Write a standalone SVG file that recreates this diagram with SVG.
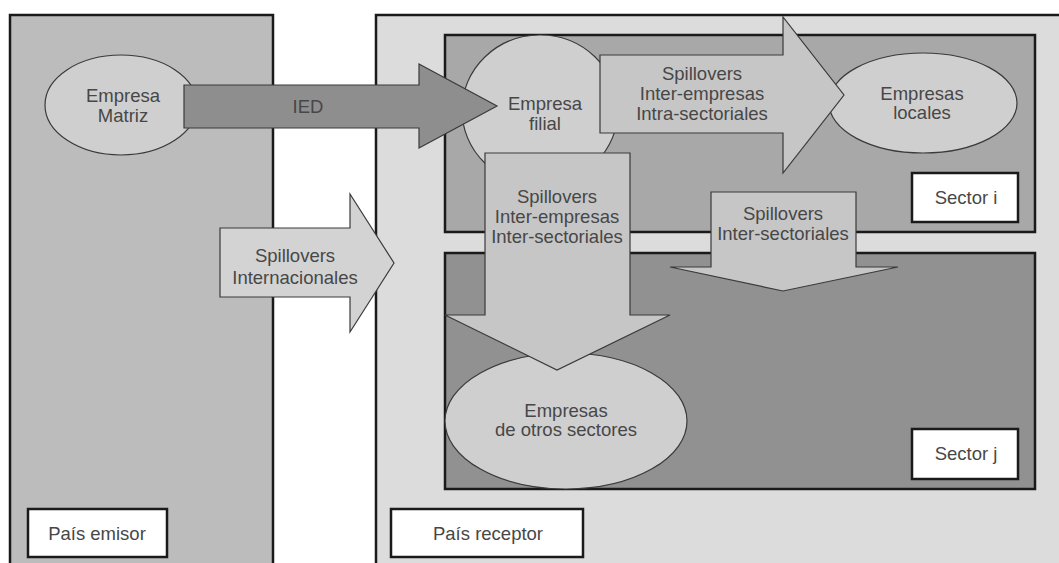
<svg xmlns="http://www.w3.org/2000/svg" width="1059" height="563" viewBox="0 0 1059 563">
  <style>
    .panel { stroke: #1a1a1a; stroke-width: 2.5; }
    .sector { stroke: #1a1a1a; stroke-width: 2.5; }
    .label { fill: #ffffff; stroke: #1a1a1a; stroke-width: 2.5; }
    .firm { fill: #cfcfcf; stroke: #3a3a3a; stroke-width: 1.2; }
    .arrow { stroke: #3a3a3a; stroke-width: 1.2; stroke-linejoin: miter; }
    .light { fill: #c6c6c6; }
    .lighter { fill: #d3d3d3; }
    .dark { fill: #8e8e8e; }
    text { font-family: "Liberation Sans", Arial, sans-serif; font-size: 18.5px; fill: #474747; text-anchor: middle; }
  </style>

  <rect width="1059" height="563" fill="#ffffff"/>

  <!-- Countries -->
  <g id="pais-emisor">
    <rect class="panel" x="10" y="15" width="263" height="560" fill="#bdbcbd"/>
  </g>
  <g id="pais-receptor">
    <rect class="panel" x="376" y="15" width="700" height="560" fill="#dcdcdc"/>
  </g>

  <!-- Sectors inside the receiving country -->
  <g id="sector-i">
    <rect class="sector" x="445" y="35" width="590" height="197" fill="#a8a8a8"/>
  </g>
  <g id="sector-j">
    <rect class="sector" x="445" y="253" width="590" height="236" fill="#919191"/>
  </g>

  <!-- Firms -->
  <g id="empresa-matriz">
    <ellipse class="firm" cx="121" cy="105" rx="76" ry="50"/>
    <text x="123" y="102">Empresa</text>
    <text x="123" y="122">Matriz</text>
  </g>
  <g id="empresa-filial">
    <ellipse class="firm" cx="540" cy="110" rx="78" ry="75"/>
  </g>
  <g id="empresas-locales">
    <ellipse class="firm" cx="923" cy="103" rx="94" ry="50"/>
    <text x="922" y="100">Empresas</text>
    <text x="922" y="119">locales</text>
  </g>
  <g id="empresas-otros-sectores">
    <ellipse class="firm" cx="566" cy="421" rx="121" ry="68"/>
  </g>

  <!-- Flows between firms and countries -->
  <g id="connectors">
    <g id="ied">
      <polygon class="arrow dark" points="184,85 419,85 419,64 497,106 419,148 419,128 184,128"/>
      <text x="308" y="113">IED</text>
    </g>
    <g id="spillovers-intra">
      <polygon class="arrow light" points="600,55 783,55 783,17 844,95 783,173 783,133 600,133"/>
      <text x="702" y="80">Spillovers</text>
      <text x="702" y="100">Inter-empresas</text>
      <text x="702" y="120">Intra-sectoriales</text>
    </g>
    <g id="spillovers-inter-sectoriales">
      <polygon class="arrow light" points="711,192 856,192 856,267 898,267 783,291 670,267 711,267"/>
      <text x="783" y="220">Spillovers</text>
      <text x="783" y="240">Inter-sectoriales</text>
    </g>
    <g id="spillovers-inter-empresas">
      <polygon class="arrow light" points="485,153 630,153 630,315 670,315 557,370 445,315 485,315"/>
      <text x="557" y="203">Spillovers</text>
      <text x="557" y="223">Inter-empresas</text>
      <text x="557" y="243">Inter-sectoriales</text>
    </g>
    <g id="spillovers-internacionales">
      <polygon class="arrow lighter" points="220,228 350,228 350,194 394,263 350,332 350,297 220,297"/>
      <text x="295" y="262">Spillovers</text>
      <text x="295" y="284">Internacionales</text>
    </g>
  </g>

  <!-- Labels drawn above the flows -->
  <g id="empresa-filial-label">
    <text x="545" y="110">Empresa</text>
    <text x="545" y="130">filial</text>
  </g>
  <g id="empresas-otros-sectores-label">
    <text x="566" y="417">Empresas</text>
    <text x="566" y="436">de otros sectores</text>
  </g>

  <g id="label-sector-i">
    <rect class="label" x="912" y="173" width="106" height="49"/>
    <text x="966" y="204">Sector i</text>
  </g>
  <g id="label-sector-j">
    <rect class="label" x="912" y="429" width="106" height="50"/>
    <text x="966" y="460">Sector j</text>
  </g>
  <g id="label-pais-emisor">
    <rect class="label" x="28" y="509" width="139" height="48"/>
    <text x="97" y="540">País emisor</text>
  </g>
  <g id="label-pais-receptor">
    <rect class="label" x="391" y="509" width="192" height="48"/>
    <text x="488" y="540">País receptor</text>
  </g>
</svg>
